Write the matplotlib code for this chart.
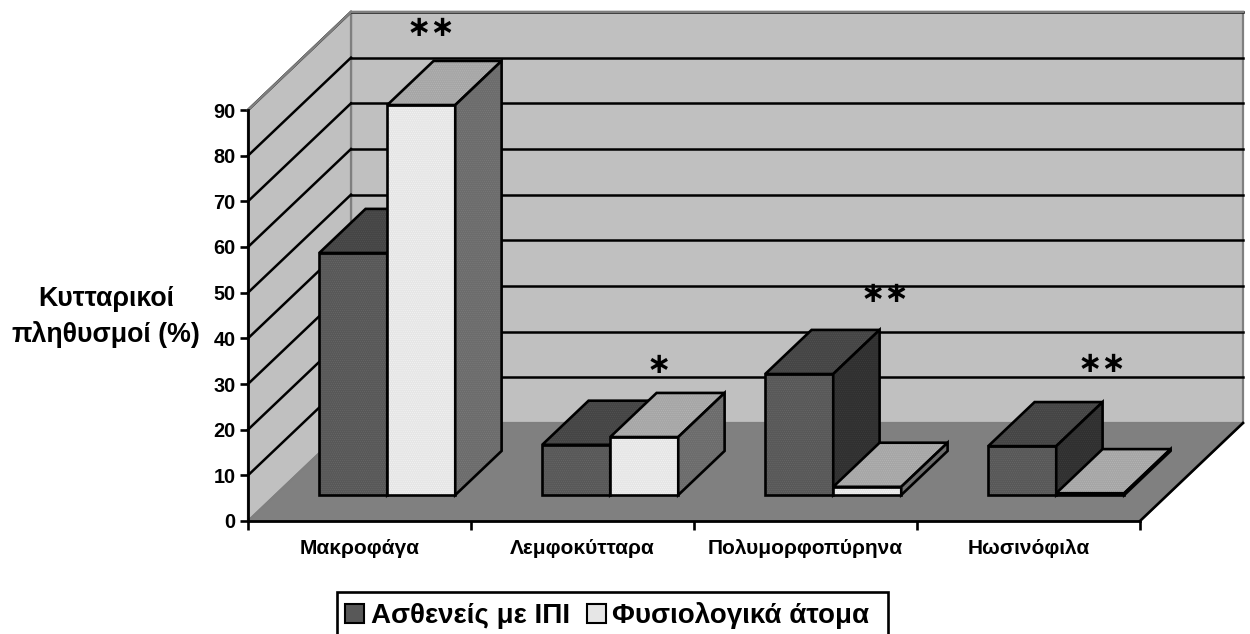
# -*- coding: utf-8 -*-
"""
Κυτταρικοι πληθυσμοι - ραβδογραμμα με ψευδο-3Δ προβολη.
"""

import matplotlib

matplotlib.use("Agg")
import matplotlib.pyplot as plt
from matplotlib.patches import Polygon, Rectangle

plt.rcParams["font.family"] = ["Liberation Sans", "DejaVu Sans"]
plt.rcParams["font.weight"] = "bold"
plt.rcParams["hatch.linewidth"] = 0.35

categories = ["Μακροφάγα", "Λεμφοκύτταρα", "Πολυμορφοπύρηνα", "Ηωσινόφιλα"]
patients = [53, 11, 26.5, 10.7]
controls = [85.4, 12.7, 1.8, 0.4]
series_names = ["Ασθενείς με ΙΠΙ", "Φυσιολογικά άτομα"]
y_ticks = [0, 10, 20, 30, 40, 50, 60, 70, 80, 90]
significance = ["**", "*", "**", "**"]

# Γεωμετρια της προβολης
WIDTH, HEIGHT = 1250, 634
LEFT, RIGHT, BOTTOM, TOP = 248, 1140, 521, 110
DEPTH_X = 103 / 223  # κατηγοριες ανα μοναδα βαθους
DEPTH_Y = 98 / (411 / 90)  # τιμες ανα μοναδα βαθους
BAR_FRONT = 0.265
BAR_DEPTH = 0.45
BAR_GAP = 0.197
BAR_WIDTH = 0.305
Y_MAX = 90
N_CAT = len(categories)

STAR_POS = [(0.82, 107.85), (1.843, 34.15), (2.857, 49.75), (3.83, 34.35)]


def proj(x, y, d):
    return (x + d * DEPTH_X, y + d * DEPTH_Y)


def face(ax, pts, color, hatch_color=None, ec="black", lw=1.9, z=3):
    if hatch_color is not None:
        ax.add_patch(
            Polygon(pts, closed=True, fc=color, ec=hatch_color, lw=0,
                    hatch="........", clip_on=False, zorder=z)
        )
    else:
        ax.add_patch(Polygon(pts, closed=True, fc=color, ec="none", clip_on=False, zorder=z))
    ax.add_patch(
        Polygon(pts, closed=True, fc="none", ec=ec, lw=lw, joinstyle="miter",
                clip_on=False, zorder=z)
    )


def bar3d(ax, x0, value, colors, z):
    front, top, side = colors
    x1 = x0 + BAR_WIDTH
    d0, d1 = BAR_FRONT, BAR_FRONT + BAR_DEPTH
    face(ax, [proj(x0, 0, d0), proj(x1, 0, d0), proj(x1, value, d0), proj(x0, value, d0)],
         front[0], front[1], z=z)
    face(ax, [proj(x0, value, d0), proj(x1, value, d0), proj(x1, value, d1), proj(x0, value, d1)],
         top[0], top[1], z=z)
    face(ax, [proj(x1, 0, d0), proj(x1, 0, d1), proj(x1, value, d1), proj(x1, value, d0)],
         side[0], side[1], z=z)


def fx(px):
    return px / WIDTH


def fy(py):
    return 1 - py / HEIGHT


fig = plt.figure(figsize=(WIDTH / 100, HEIGHT / 100), dpi=100)
ax = fig.add_axes([
    LEFT / WIDTH,
    (HEIGHT - BOTTOM) / HEIGHT,
    (RIGHT - LEFT) / WIDTH,
    (BOTTOM - TOP) / HEIGHT,
])
ax.set_xlim(0, N_CAT)
ax.set_ylim(0, Y_MAX)
ax.patch.set_visible(False)

# Τοιχοι και δαπεδο
WALL = "#c0c0c0"
FLOOR = "#808080"
EDGE = "#7f7f7f"
face(ax, [proj(0, 0, 1), proj(N_CAT, 0, 1), proj(N_CAT, Y_MAX, 1), proj(0, Y_MAX, 1)],
     WALL, ec=EDGE, lw=1.6, z=1)
face(ax, [proj(0, 0, 0), proj(0, 0, 1), proj(0, Y_MAX, 1), proj(0, Y_MAX, 0)],
     WALL, ec=EDGE, lw=1.6, z=1)
face(ax, [proj(0, 0, 0), proj(N_CAT, 0, 0), proj(N_CAT, 0, 1), proj(0, 0, 1)],
     FLOOR, ec=EDGE, lw=1.4, z=1.5)
x_edge, y_edge = zip(proj(N_CAT, 0, 0), proj(N_CAT, 0, 1))
ax.plot(x_edge, y_edge, color="black", lw=1.9, clip_on=False, zorder=2)

# Γραμμες πλεγματος
for tick in y_ticks[1:]:
    a = proj(0, tick, 0)
    b = proj(0, tick, 1)
    c = proj(N_CAT, tick, 1)
    ax.plot([a[0], b[0]], [a[1], b[1]], color="black", lw=1.8, clip_on=False, zorder=2)
    ax.plot([b[0], c[0]], [b[1], c[1]], color="black", lw=1.8, clip_on=False, zorder=2)
a = proj(0, Y_MAX, 0)
b = proj(0, Y_MAX, 1)
c = proj(N_CAT, Y_MAX, 1)
ax.plot([a[0], b[0], c[0]], [a[1], b[1], c[1]], color=EDGE, lw=1.8, clip_on=False, zorder=2)

# Χρωματα: (γεμισμα, κουκκιδες)
dark_normal = (("#585858", "#6a6a6a"), ("#454545", "#555555"), ("#303030", "#3e3e3e"))
dark_first = (("#585858", "#6a6a6a"), ("#454545", "#555555"), ("#454545", "#555555"))
light_normal = (("#e6e6e6", "#f5f5f5"), ("#a6a6a6", "#b8b8b8"), ("#6c6c6c", "#7c7c7c"))

for i, (p, c) in enumerate(zip(patients, controls)):
    x0 = i + BAR_GAP
    z = 3 + i
    bar3d(ax, x0, p, dark_first if i < 2 else dark_normal, z)
    bar3d(ax, x0 + BAR_WIDTH, c, light_normal, z + 0.5)

for mark, (sx, sy) in zip(significance, STAR_POS):
    ax.text(sx, sy, "∗" * len(mark),
            family="DejaVu Sans", fontweight="bold", fontsize=21,
            ha="center", va="center", clip_on=False, zorder=10)

# Αξονες
for name in ["top", "right"]:
    ax.spines[name].set_visible(False)
for name in ["left", "bottom"]:
    ax.spines[name].set_linewidth(2.0)
    ax.spines[name].set_zorder(2.5)
ax.set_yticks(y_ticks)
ax.tick_params(axis="y", length=6, width=1.9, pad=3, labelsize=14.3)
ax.set_xticks(range(N_CAT + 1))
ax.set_xticklabels([])
ax.tick_params(axis="x", which="major", length=6.5, width=1.9)
ax.set_xticks([i + 0.5 for i in range(N_CAT)], minor=True)
ax.set_xticklabels(categories, minor=True, fontsize=15)
ax.tick_params(axis="x", which="minor", length=0, pad=13)

fig.text(fx(106), fy(317), "Κυτταρικοί\nπληθυσμοί (%)",
         ha="center", va="center", fontsize=19.3, linespacing=1.4)

# Υπομνημα (το κατω μερος του πλαισιου κοβεται απο την εικονα)
fig.add_artist(Rectangle((fx(337), fy(642)), 551 / WIDTH, 50 / HEIGHT,
                         transform=fig.transFigure, fc="white", ec="black", lw=1.9))
legend_marks = [(345, "#585858"), (587, "#e6e6e6")]
legend_text_x = [371, 612]
for (mark_x, mark_color), text_x, name in zip(legend_marks, legend_text_x, series_names):
    fig.add_artist(Rectangle((fx(mark_x), fy(623)), 19 / WIDTH, 19 / HEIGHT,
                             transform=fig.transFigure, fc=mark_color, ec="black", lw=1.5))
    fig.text(fx(text_x), fy(623), name, ha="left", va="baseline", fontsize=20)

fig.savefig("out.png", dpi=100, facecolor="white")
plt.close(fig)
